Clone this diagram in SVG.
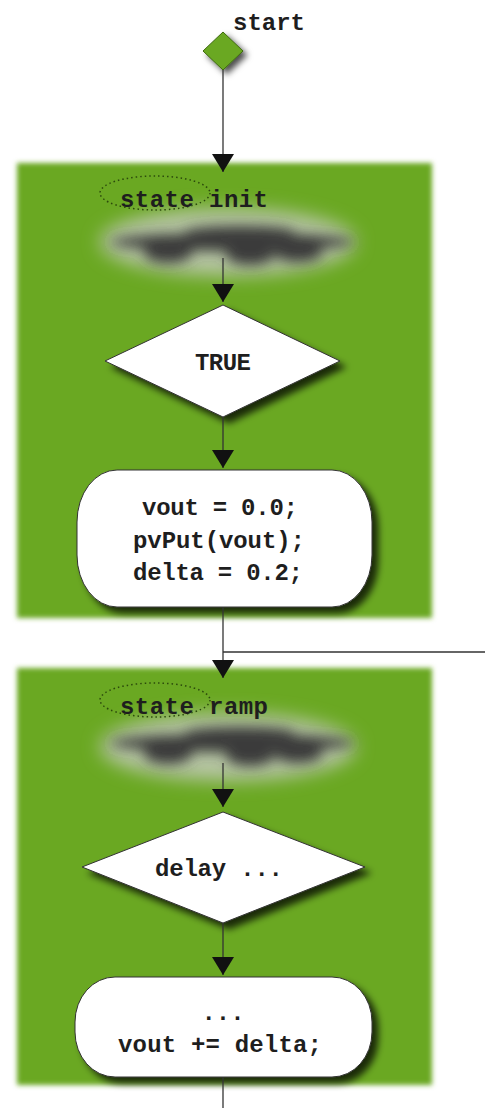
<svg xmlns="http://www.w3.org/2000/svg" width="485" height="1108" viewBox="0 0 485 1108">
<style>
.t{font-family:"Liberation Mono","DejaVu Sans Mono",monospace;font-weight:bold;font-size:24px;fill:#1e1e1e}
.st{fill:#6ba822;filter:url(#feather)}
.dec{fill:#fff;stroke:#333;stroke-width:1;filter:url(#shadow)}
.act{fill:#fff;stroke:#333;stroke-width:1;filter:url(#shadow)}
.lbl{fill:none;stroke:#2c4a0c;stroke-width:1.5;stroke-dasharray:1.5 3}
.cl{fill:#3a3a3a;filter:url(#cloud)}
.halo{fill:#b5c4a2;filter:url(#halo)}
.c{fill:none;stroke:#333;stroke-width:1.3}
</style>
<defs>
<filter id="feather" x="-5%" y="-5%" width="110%" height="110%"><feGaussianBlur stdDeviation="2.5"/></filter>
<filter id="shadow" x="-20%" y="-20%" width="150%" height="150%"><feDropShadow dx="6" dy="6" stdDeviation="3.5" flood-color="#000" flood-opacity="0.75"/></filter>
<filter id="cloud" x="-30%" y="-100%" width="160%" height="300%"><feGaussianBlur stdDeviation="6.5"/></filter>
<filter id="halo" x="-30%" y="-100%" width="160%" height="300%"><feGaussianBlur stdDeviation="9"/></filter>
<filter id="sshadow" x="-50%" y="-50%" width="200%" height="200%"><feDropShadow dx="4" dy="4" stdDeviation="3" flood-color="#000" flood-opacity="0.7"/></filter>
<marker id="ah" markerUnits="userSpaceOnUse" markerWidth="18" markerHeight="22" refX="18" refY="11" orient="auto" viewBox="0 0 18 22"><path d="M0,0 L18,11 L0,22 z" fill="#111"/></marker>
</defs>

<rect id="bg" x="0" y="0" width="485" height="1108" fill="#fff"/>

<g id="state-init">
<rect class="st" x="17" y="163" width="415" height="455"/>
<ellipse class="halo" cx="228" cy="242" rx="128" ry="34"/>
<g class="cl">
<ellipse cx="232" cy="242" rx="122" ry="9"/>
<ellipse cx="168" cy="253" rx="24" ry="10"/>
<ellipse cx="250" cy="255" rx="24" ry="10"/>
<ellipse cx="298" cy="253" rx="24" ry="9"/>
<ellipse cx="240" cy="232" rx="55" ry="6"/>
</g>
<ellipse class="lbl" cx="155" cy="193" rx="55" ry="17"/>
<text class="t" x="120" y="207" textLength="148">state init</text>
</g>

<g id="start">
<polygon points="223,32 243,51 223,70 203,51" fill="#6ba822" stroke="#3d6a10" stroke-width="1" filter="url(#sshadow)"/>
<text class="t" x="233" y="30" textLength="72">start</text>
</g>

<g id="dec-true">
<polygon class="dec" points="223,305 340,361 223,417 105,361"/>
<text class="t" x="223" y="370" text-anchor="middle" textLength="56">TRUE</text>
</g>

<g id="act-init">
<rect class="act" x="77" y="470" width="295" height="137" rx="40" ry="52"/>
<text class="t" x="142" y="515" textLength="156">vout = 0.0;</text>
<text class="t" x="133" y="548" textLength="172">pvPut(vout);</text>
<text class="t" x="133" y="580" textLength="170">delta = 0.2;</text>
</g>

<g id="state-ramp">
<rect class="st" x="17" y="668" width="415" height="417"/>
<ellipse class="halo" cx="228" cy="747" rx="128" ry="34"/>
<g class="cl">
<ellipse cx="232" cy="743" rx="122" ry="9"/>
<ellipse cx="168" cy="754" rx="24" ry="10"/>
<ellipse cx="250" cy="756" rx="24" ry="10"/>
<ellipse cx="298" cy="754" rx="24" ry="9"/>
<ellipse cx="240" cy="733" rx="55" ry="6"/>
</g>
<ellipse class="lbl" cx="155" cy="700" rx="55" ry="17"/>
<text class="t" x="120" y="714" textLength="148">state ramp</text>
</g>

<g id="dec-delay">
<polygon class="dec" points="223,812 365,867 223,923 82,867"/>
<text class="t" x="155" y="876" textLength="128">delay ...</text>
</g>

<g id="act-ramp">
<rect class="act" x="75" y="977" width="297" height="100" rx="40" ry="45"/>
<text class="t" x="223" y="1020" text-anchor="middle">...</text>
<text class="t" x="118" y="1052" textLength="204">vout += delta;</text>
</g>

<g id="connectors">
<path class="c" d="M223,70 V172" marker-end="url(#ah)" stroke="#777" stroke-width="2"/>
<path class="c" d="M223,258 V302" marker-end="url(#ah)"/>
<path class="c" d="M223,417 V468" marker-end="url(#ah)"/>
<path class="c" d="M223,607 V678" marker-end="url(#ah)"/>
<path class="c" d="M223,652 H485"/>
<path class="c" d="M223,763 V807" marker-end="url(#ah)"/>
<path class="c" d="M223,923 V975" marker-end="url(#ah)"/>
<path class="c" d="M223,1077 V1108"/>
</g>
</svg>
